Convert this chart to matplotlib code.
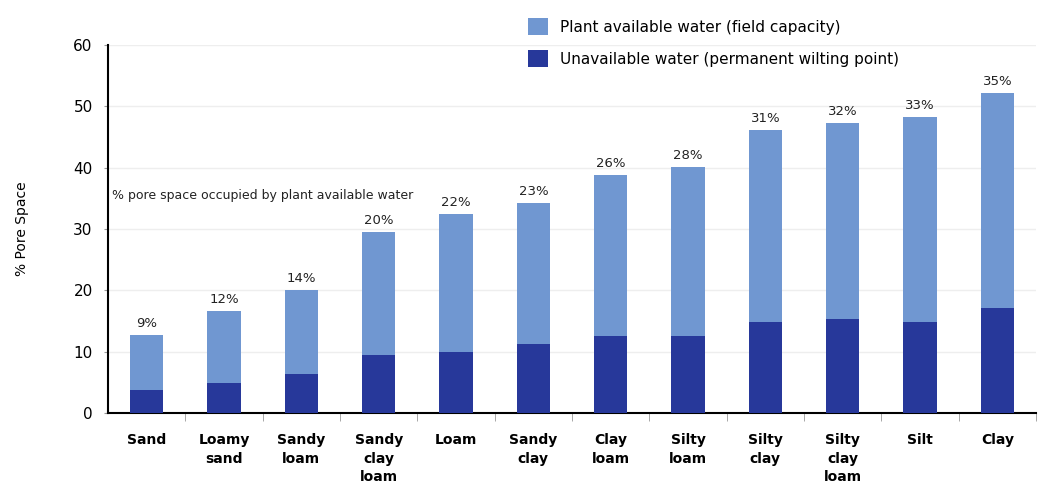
import numpy as np
import matplotlib
matplotlib.use("Agg")
import matplotlib.pyplot as plt

# Data
soils = ["Sand", "Loamy\nsand", "Sandy\nloam", "Sandy\nclay\nloam", "Loam", "Sandy\nclay",
         "Clay\nloam", "Silty\nloam", "Silty\nclay", "Silty\nclay\nloam", "Silt", "Clay"]
unavailable = [3.7, 4.9, 6.4, 9.5, 10.0, 11.3, 12.6, 12.6, 14.9, 15.3, 14.9, 17.2]
available = [9.0, 11.7, 13.6, 20.0, 22.5, 23.0, 26.2, 27.5, 31.2, 32.0, 33.3, 35.0]
pct_labels = ["9%", "12%", "14%", "20%", "22%", "23%", "26%", "28%", "31%", "32%", "33%", "35%"]

light = "#7097d1"
dark = "#27389a"

fig = plt.figure(figsize=(10.44, 4.93), dpi=100)
ax = fig.add_axes([0.1034, 0.162, 0.889, 0.747])

x = np.arange(len(soils))
ax.bar(x, available, bottom=unavailable, width=0.43, color=light,
       label="Plant available water (field capacity)", zorder=3)
ax.bar(x, unavailable, width=0.43, color=dark,
       label="Unavailable water (permanent wilting point)", zorder=3)

totals = np.array(unavailable) + np.array(available)
for xi, t, lab in zip(x, totals, pct_labels):
    ax.text(xi, t + 0.8, lab, ha="center", va="bottom", fontsize=9.5, color="#222222")

ax.text(-0.45, 35.5, "% pore space occupied by plant available water",
        fontsize=9, color="#222222", va="center")

ax.set_xlim(-0.5, len(soils) - 0.5)
ax.set_ylim(0, 60)
ax.set_yticks(range(0, 61, 10))
ax.tick_params(axis="y", labelsize=11, length=3, color="#999999", pad=8)
ax.yaxis.grid(True, color="#eeeeee", linewidth=1, zorder=0)

ax.set_xticks(x)
ax.set_xticklabels(soils, fontweight="bold", fontsize=10, linespacing=1.45, va="top")
ax.tick_params(axis="x", length=0, pad=14)
ax.set_xticks(np.arange(-0.5, len(soils) + 0.5, 1)[1:], minor=True)
ax.tick_params(axis="x", which="minor", length=6, color="#999999")

ax.set_ylabel("% Pore Space", fontsize=10, labelpad=32)

for s in ["top", "right"]:
    ax.spines[s].set_visible(False)
ax.spines["left"].set_linewidth(1.5)
ax.spines["bottom"].set_linewidth(1.5)

fig.legend(loc="upper left", bbox_to_anchor=(0.5, 0.975), frameon=False,
           fontsize=11, handlelength=1.3, handleheight=1.3, handletextpad=0.8,
           labelspacing=1.0, borderaxespad=0)

fig.savefig("out.png", dpi=100)
